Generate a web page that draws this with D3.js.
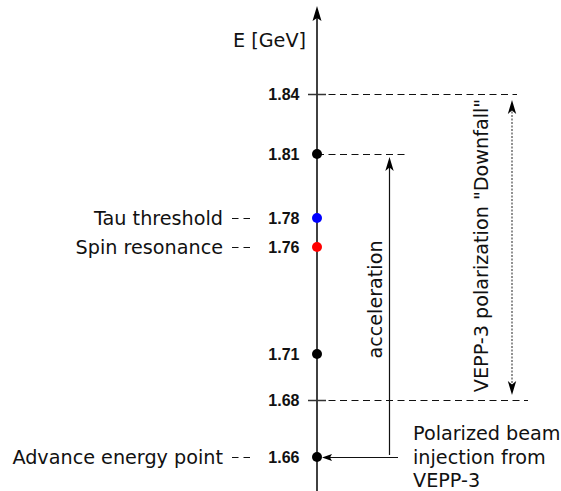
<!DOCTYPE html>
<html>
<head>
<meta charset="utf-8">
<script src="https://cdn.jsdelivr.net/npm/d3@7"></script>
<style>
  html, body { margin: 0; padding: 0; background: #fff; }
  svg { display: block; }
</style>
</head>
<body>
<script>
// ---- data ----
const levelValues = [1.84, 1.81, 1.778, 1.7635, 1.71, 1.687, 1.6585];
const levelLabels = ["1.84", "1.81", "1.78", "1.76", "1.71", "1.68", "1.66"];
const levelMarker = ["tick", "black", "blue", "red", "black", "tick", "black"];
const sideNames = ["", "", "Tau threshold", "Spin resonance", "", "", "Advance energy point"];
const guideLevels = [1.84, 1.81, 1.687];
const guideEnds = [517, 405, 528];
const accelRange = [1.6595, 1.8085];
const downfallRange = [1.6895, 1.837];
const injectionLines = ["Polarized beam", "injection from", "VEPP-3"];

const W = 561, H = 491;
const svg = d3.select("body").append("svg").attr("width", W).attr("height", H);

const y = d3.scaleLinear().domain([1.64, 1.885]).range([494, 4]);
const ax = 317;
const textFont = "DejaVu Sans";
const fs = 19.2;

// guide dashed lines
svg.selectAll("line.guide").data(guideLevels).join("line")
  .attr("x1", ax).attr("x2", (d, i) => guideEnds[i])
  .attr("y1", d => Math.round(y(d)) + 0.5).attr("y2", d => Math.round(y(d)) + 0.5)
  .attr("stroke", "#111").attr("stroke-width", 1)
  .attr("stroke-dasharray", "7,4.5");

// main axis
svg.append("line").attr("x1", ax).attr("x2", ax)
  .attr("y1", y(1.64)).attr("y2", 14)
  .attr("stroke", "#111").attr("stroke-width", 1.6);
svg.append("path")
  .attr("d", `M${ax},6 L${ax - 4.5},21 L${ax},18 L${ax + 4.5},21 Z`)
  .attr("fill", "#000");

// ticks for levels without dots
levelValues.forEach((v, i) => {
  if (levelMarker[i] === "tick") {
    svg.append("line").attr("x1", ax - 9).attr("x2", ax + 9)
      .attr("y1", Math.round(y(v)) + 0.5).attr("y2", Math.round(y(v)) + 0.5)
      .attr("stroke", "#333").attr("stroke-width", 1.5);
  }
});

// dots
const colorMap = { black: "#000", blue: "#0000ff", red: "#ff0000" };
levelValues.forEach((v, i) => {
  if (levelMarker[i] !== "tick") {
    svg.append("circle").attr("cx", ax).attr("cy", y(v)).attr("r", 5)
      .attr("fill", colorMap[levelMarker[i]]);
  }
});

// tick labels
svg.selectAll("text.lvl").data(levelValues).join("text")
  .attr("x", 299.5).attr("y", d => y(d))
  .attr("dy", "0.36em")
  .attr("text-anchor", "end")
  .attr("font-family", "Liberation Sans, Arial, sans-serif")
  .attr("font-weight", "bold").attr("font-size", 16)
  .attr("fill", "#111")
  .text((d, i) => levelLabels[i]);

// side names with dashes
levelValues.forEach((v, i) => {
  if (sideNames[i]) {
    svg.append("text").attr("x", 223).attr("y", y(v)).attr("dy", "0.36em")
      .attr("text-anchor", "end").attr("font-family", textFont)
      .attr("font-size", fs).attr("fill", "#111").text(sideNames[i]);
    svg.append("line").attr("x1", 232).attr("x2", 250)
      .attr("y1", Math.round(y(v)) + 0.5).attr("y2", Math.round(y(v)) + 0.5)
      .attr("stroke", "#111").attr("stroke-width", 1.2)
      .attr("stroke-dasharray", "6.5,5");
  }
});

// axis title
svg.append("text").attr("x", 306).attr("y", 40).attr("dy", "0.36em")
  .attr("text-anchor", "end").attr("font-family", textFont)
  .attr("font-size", fs).attr("fill", "#111").text("E [GeV]");

// arrowhead helper
function head(x, yy, dir, len, half) {
  const b = yy - dir * len, n = yy - dir * len * 0.75;
  return `M${x},${yy} L${x - half},${b} L${x},${n} L${x + half},${b} Z`;
}

// acceleration arrow
const accX = 389.5;
svg.append("line").attr("x1", accX).attr("x2", accX)
  .attr("y1", y(accelRange[0])).attr("y2", y(accelRange[1]) + 8)
  .attr("stroke", "#111").attr("stroke-width", 1.2);
svg.append("path").attr("d", head(accX, y(accelRange[1]), -1, 14, 4.2)).attr("fill", "#000");
svg.append("text")
  .attr("transform", `translate(375,${(y(1.71) + y(1.7635)) / 2 - 1}) rotate(-90)`)
  .attr("dy", "0.36em").attr("text-anchor", "middle")
  .attr("font-family", textFont).attr("font-size", fs).attr("fill", "#111")
  .text("acceleration");

// downfall double arrow
const dfX = 512;
svg.append("line").attr("x1", dfX).attr("x2", dfX)
  .attr("y1", y(downfallRange[1]) + 8).attr("y2", y(downfallRange[0]) - 8)
  .attr("stroke", "#777").attr("stroke-width", 1.6)
  .attr("stroke-dasharray", "2,1.5");
svg.append("path").attr("d", head(dfX, y(downfallRange[1]), -1, 14, 4.2)).attr("fill", "#000");
svg.append("path").attr("d", head(dfX, y(downfallRange[0]), 1, 14, 4.2)).attr("fill", "#000");
svg.append("text")
  .attr("transform", `translate(481,${(y(downfallRange[0]) + y(downfallRange[1])) / 2 - 2}) rotate(-90)`)
  .attr("dy", "0.36em").attr("text-anchor", "middle")
  .attr("font-family", textFont).attr("font-size", fs).attr("fill", "#111")
  .text('VEPP-3 polarization "Downfall"');

// injection arrow
const injY = Math.round(y(1.6585)) + 0.5;
svg.append("line").attr("x1", 398).attr("x2", 328)
  .attr("y1", injY).attr("y2", injY)
  .attr("stroke", "#111").attr("stroke-width", 1.1);
svg.append("path")
  .attr("d", `M322,${injY} L332,${injY - 3.5} L330,${injY} L332,${injY + 3.5} Z`)
  .attr("fill", "#000");

svg.selectAll("text.inj").data(injectionLines).join("text")
  .attr("x", 413).attr("y", (d, i) => injY - 0.5 + (i - 1) * 23.5)
  .attr("dy", "0.36em").attr("font-family", textFont)
  .attr("font-size", fs).attr("fill", "#111")
  .text(d => d);
</script>
</body>
</html>
